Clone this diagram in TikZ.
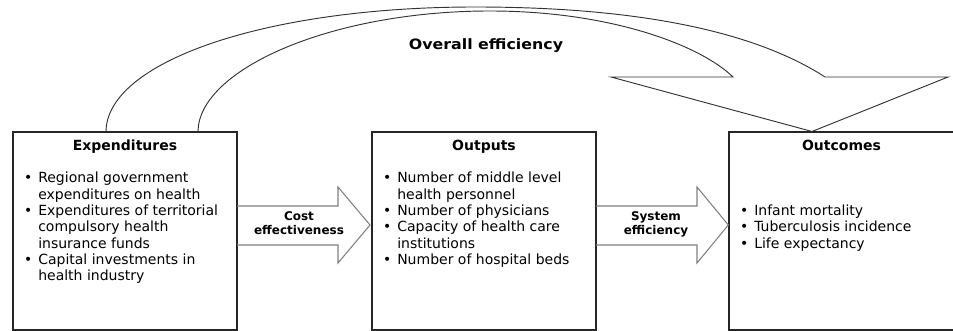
\documentclass[tikz,border=0pt]{standalone}
\usepackage{fontspec}
\setmainfont{DejaVu Sans}
\newcommand\bul{\llap{•\kern4.5pt}}
\begin{document}
\begin{tikzpicture}[x=0.75pt,y=-0.75pt,
  box/.style={draw=black!85, line width=1pt, inner sep=0pt, outer sep=0pt, anchor=north west},
  boxtitle/.style={inner sep=0pt, anchor=base, font=\bfseries\fontsize{10.5pt}{12.25pt}\selectfont},
  bodytext/.style={inner sep=0pt, anchor=base west, font=\fontsize{10.5pt}{12.25pt}\selectfont},
  arrowlabel/.style={inner sep=0pt, anchor=base, align=center, font=\bfseries\fontsize{9pt}{11pt}\selectfont},
  blockarrow/.style={draw=black!50, line width=0.8pt, line join=miter},
  bigarrow/.style={draw=black!80, line width=0.7pt, line join=miter}]
\useasboundingbox (0,0) rectangle (953,331);

% boxes
\node[box, minimum width=168pt, minimum height=148.5pt] (exp) at (13,132) {};
\node[box, minimum width=168pt, minimum height=148.5pt] (out) at (372,132) {};
\node[box, minimum width=168.75pt, minimum height=148.5pt] (outc) at (729,132) {};

% titles
\node[boxtitle] (expT) at (125,150.7) {Expenditures};
\node[boxtitle] (outT) at (484,150.7) {Outputs};
\node[boxtitle] (outcT) at (841.5,150.7) {Outcomes};

% body texts
\node[bodytext] (expB) at (38,182.7) {\begin{tabular}[t]{@{}l@{}}
\bul Regional government\\
expenditures on health\\
\bul Expenditures of territorial\\
compulsory health\\
insurance funds\\
\bul Capital investments in\\
health industry
\end{tabular}};
\node[bodytext] (outB) at (397,182.7) {\begin{tabular}[t]{@{}l@{}}
\bul Number of middle level\\
health personnel\\
\bul Number of physicians\\
\bul Capacity of health care\\
institutions\\
\bul Number of hospital beds
\end{tabular}};
\node[bodytext] (outcB) at (754,215.4) {\begin{tabular}[t]{@{}l@{}}
\bul Infant mortality\\
\bul Tuberculosis incidence\\
\bul Life expectancy
\end{tabular}};

% straight block arrows
\draw[blockarrow] (exp.east |- 0,206) -- (338,206) -- (338,187) -- ([xshift=-1.5pt]out.west |- 0,225)
  -- (338,263) -- (338,245) -- (exp.east |- 0,245);
\draw[blockarrow] (out.east |- 0,206) -- (697,206) -- (697,187) -- ([xshift=-0.5pt]outc.west |- 0,225)
  -- (697,263) -- (697,245) -- (out.east |- 0,245);
\node[arrowlabel] (costL) at (299,220.7) {Cost};
\node[arrowlabel] (costL2) at (299,235) {effectiveness};
\node[arrowlabel] (sysL) at (656,220.5) {System};
\node[arrowlabel] (sysL2) at (656,234.5) {efficiency};

% curved arrow
\coordinate (a1) at (106,132);
\coordinate (a2) at (198,132);
\coordinate (tip) at (812,131.5);
\draw[bigarrow] (a1) .. controls (106,62) and (265,7) .. (475,7)
  .. controls (650,7) and (760,35) .. (825,77)
  -- (948,77) -- (tip) -- (611,77) -- (733,77)
  .. controls (700,45) and (610,11) .. (490,11)
  .. controls (330,11) and (198,70) .. (a2);
\node[boxtitle] (overall) at (486,50) {\scalebox{1.13}[1.02]{Overall efficiency}};
\end{tikzpicture}
\end{document}
